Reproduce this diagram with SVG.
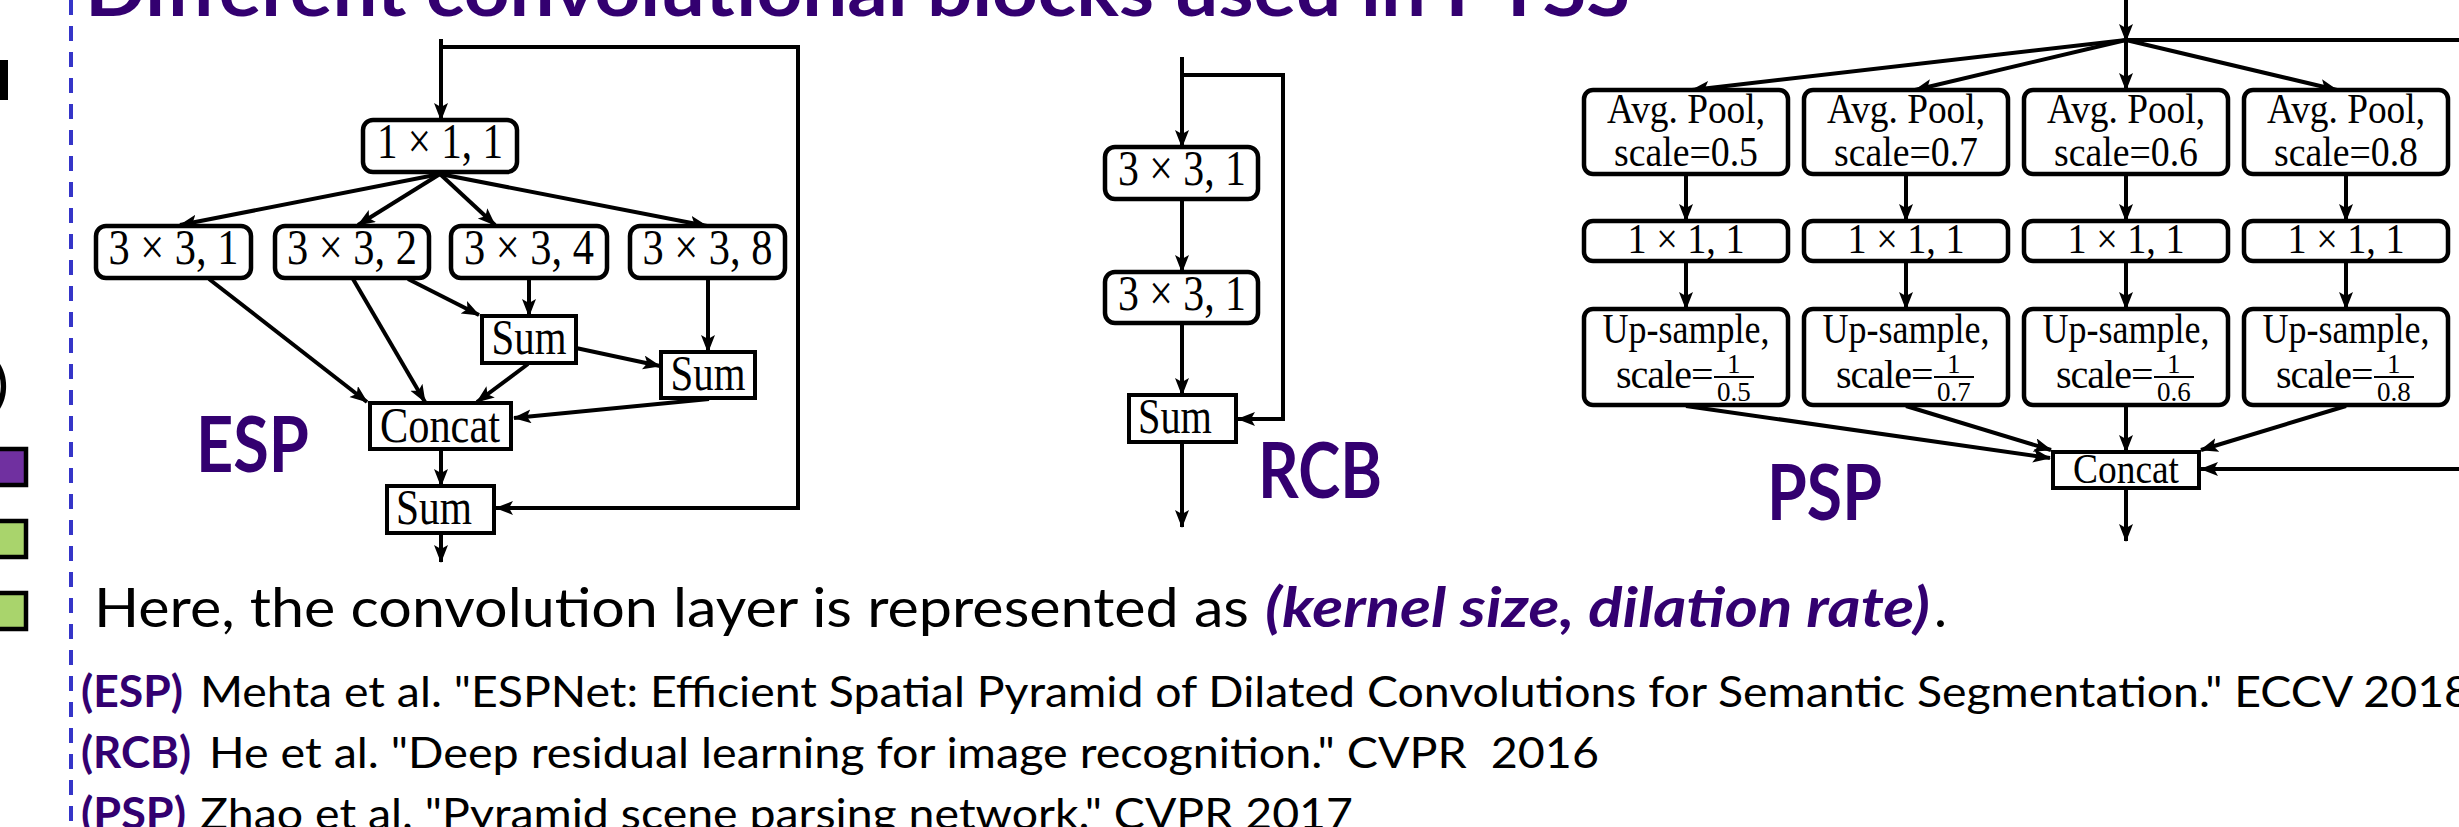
<svg xmlns="http://www.w3.org/2000/svg" width="2459" height="827" viewBox="0 0 2459 827">
  <defs>
    <marker id="ah" markerUnits="userSpaceOnUse" markerWidth="20" markerHeight="16" refX="17" refY="7" orient="auto">
      <path d="M0,0 L18,7 L0,14 L4,7 z" fill="#000"/>
    </marker>
    <style>
      .ln { stroke:#000; stroke-width:4; fill:none; stroke-linejoin:miter; }
      .arr { marker-end:url(#ah); }
      .rbox { fill:#fff; stroke:#000; stroke-width:4.5; }
      .sbox { fill:#fff; stroke:#000; stroke-width:4; }
      .tx { font-family:"Liberation Serif", "DejaVu Serif", serif; fill:#000; text-anchor:middle; }
      .t44 { font-size:50px; }
      .t38 { font-size:42px; }
      .frac { font-family:"Liberation Serif", "DejaVu Serif", serif; fill:#000; font-size:40px; letter-spacing:-1px; }
      .num { font-size:27px; letter-spacing:0; }
      .slide { font-family:Lato, "Open Sans", "Liberation Sans", sans-serif; }
      .pur { fill:#330070; }
      .lbl { font-family:Lato, "Open Sans", "Liberation Sans", sans-serif; font-weight:bold; font-size:76px; fill:#330070; }
      .dash { stroke:#3535c8; stroke-width:4; stroke-dasharray:15 11; fill:none; }
    </style>
  </defs>

  <rect x="0" y="0" width="2459" height="827" fill="#fff"/>

  <!-- slide title, running off the top edge -->
  <text class="slide pur" x="85" y="16" font-size="72" font-weight="bold" textLength="1545" lengthAdjust="spacingAndGlyphs">Different convolutional blocks used in PTSS</text>

  <!-- left margin remnants -->
  <g id="left-margin">
    <rect x="0" y="60" width="8" height="40" fill="#000"/>
    <text class="slide" x="8" y="402" font-size="50" font-weight="bold" text-anchor="end" fill="#000">)</text>
    <rect x="-20" y="449" width="46" height="36" fill="#7030a0" stroke="#000" stroke-width="4.5"/>
    <rect x="-20" y="521" width="46" height="36" fill="#a9d46c" stroke="#000" stroke-width="4.5"/>
    <rect x="-20" y="593" width="46" height="36" fill="#a9d46c" stroke="#000" stroke-width="4.5"/>
  </g>

  <!-- dashed separator -->
  <line class="dash" x1="71" y1="0" x2="71" y2="827"/>

  <!-- ===== connectors ===== -->
  <g id="connectors">
    <!-- ESP block -->
    <path class="ln arr" d="M441,39 L441,120"/>
    <path class="ln arr" d="M441,47 L798,47 L798,508 L496,508"/>
    <path class="ln arr" d="M440,174 L180,225"/>
    <path class="ln arr" d="M440,174 L358,225"/>
    <path class="ln arr" d="M440,174 L495,225"/>
    <path class="ln arr" d="M440,174 L707,226"/>
    <path class="ln arr" d="M209,279 L367,402"/>
    <path class="ln arr" d="M353,279 L425,402"/>
    <path class="ln arr" d="M408,279 L479,315"/>
    <path class="ln arr" d="M529,279 L529,316"/>
    <path class="ln arr" d="M708,279 L708,352"/>
    <path class="ln arr" d="M576,348 L660,366"/>
    <path class="ln arr" d="M528,364 L477,402"/>
    <path class="ln arr" d="M709,399 L514,418"/>
    <path class="ln arr" d="M441,450 L441,486"/>
    <path class="ln arr" d="M441,534 L441,562"/>

    <!-- RCB block -->
    <path class="ln arr" d="M1182,57 L1182,147"/>
    <path class="ln arr" d="M1182,75 L1283,75 L1283,419 L1238,419"/>
    <path class="ln arr" d="M1182,200 L1182,272"/>
    <path class="ln arr" d="M1182,324 L1182,395"/>
    <path class="ln arr" d="M1182,443 L1182,527"/>

    <!-- PSP block -->
    <path class="ln arr" d="M2126,0 L2126,41"/>
    <path class="ln" d="M2126,40 L2470,40"/>
    <path class="ln arr" d="M2126,40 L1692,90"/>
    <path class="ln arr" d="M2126,40 L1915,90"/>
    <path class="ln arr" d="M2126,40 L2126,90"/>
    <path class="ln arr" d="M2126,40 L2337,90"/>
    <path class="ln arr" d="M1686,175 L1686,221"/>
    <path class="ln arr" d="M1906,175 L1906,221"/>
    <path class="ln arr" d="M2126,175 L2126,221"/>
    <path class="ln arr" d="M2346,175 L2346,221"/>
    <path class="ln arr" d="M1686,262 L1686,309"/>
    <path class="ln arr" d="M1906,262 L1906,309"/>
    <path class="ln arr" d="M2126,262 L2126,309"/>
    <path class="ln arr" d="M2346,262 L2346,309"/>
    <path class="ln arr" d="M1686,406 L2050,458"/>
    <path class="ln arr" d="M1906,406 L2051,450"/>
    <path class="ln arr" d="M2126,406 L2126,452"/>
    <path class="ln arr" d="M2346,406 L2201,450"/>
    <path class="ln arr" d="M2470,469 L2201,469"/>
    <path class="ln arr" d="M2126,489 L2126,541"/>
  </g>

  <!-- ===== ESP nodes ===== -->
  <g id="esp-conv11">
    <rect class="rbox" x="363" y="120" width="154" height="52" rx="10"/>
    <text class="tx t44" x="440" y="158" textLength="126" lengthAdjust="spacingAndGlyphs">1 × 1, 1</text>
  </g>
  <g id="esp-conv33-d1">
    <rect class="rbox" x="96" y="226" width="155" height="52" rx="10"/>
    <text class="tx t44" x="173.5" y="264" textLength="130" lengthAdjust="spacingAndGlyphs">3 × 3, 1</text>
  </g>
  <g id="esp-conv33-d2">
    <rect class="rbox" x="275" y="226" width="154" height="52" rx="10"/>
    <text class="tx t44" x="352" y="264" textLength="130" lengthAdjust="spacingAndGlyphs">3 × 3, 2</text>
  </g>
  <g id="esp-conv33-d4">
    <rect class="rbox" x="451" y="226" width="156" height="52" rx="10"/>
    <text class="tx t44" x="529" y="264" textLength="130" lengthAdjust="spacingAndGlyphs">3 × 3, 4</text>
  </g>
  <g id="esp-conv33-d8">
    <rect class="rbox" x="630" y="226" width="155" height="52" rx="10"/>
    <text class="tx t44" x="707.5" y="264" textLength="130" lengthAdjust="spacingAndGlyphs">3 × 3, 8</text>
  </g>
  <g id="esp-sum1">
    <rect class="sbox" x="482" y="316" width="94" height="47"/>
    <text class="tx t44" x="529" y="354" textLength="75" lengthAdjust="spacingAndGlyphs">Sum</text>
  </g>
  <g id="esp-sum2">
    <rect class="sbox" x="661" y="352" width="94" height="46"/>
    <text class="tx t44" x="708" y="390" textLength="75" lengthAdjust="spacingAndGlyphs">Sum</text>
  </g>
  <g id="esp-concat">
    <rect class="sbox" x="370" y="403" width="141" height="46"/>
    <text class="tx t44" x="440" y="442" textLength="120" lengthAdjust="spacingAndGlyphs">Concat</text>
  </g>
  <g id="esp-sum-out">
    <rect class="sbox" x="387" y="486" width="107" height="47"/>
    <text class="tx t44" x="434" y="524" textLength="76" lengthAdjust="spacingAndGlyphs">Sum</text>
  </g>
  <text class="lbl" x="196" y="472" textLength="113" lengthAdjust="spacingAndGlyphs">ESP</text>

  <!-- ===== RCB nodes ===== -->
  <g id="rcb-conv1">
    <rect class="rbox" x="1105" y="147" width="153" height="52" rx="10"/>
    <text class="tx t44" x="1182" y="185" textLength="128" lengthAdjust="spacingAndGlyphs">3 × 3, 1</text>
  </g>
  <g id="rcb-conv2">
    <rect class="rbox" x="1105" y="272" width="153" height="51" rx="10"/>
    <text class="tx t44" x="1182" y="310" textLength="128" lengthAdjust="spacingAndGlyphs">3 × 3, 1</text>
  </g>
  <g id="rcb-sum">
    <rect class="sbox" x="1129" y="395" width="107" height="47"/>
    <text class="tx t44" x="1175" y="433" textLength="74" lengthAdjust="spacingAndGlyphs">Sum</text>
  </g>
  <text class="lbl" x="1258" y="498" textLength="124" lengthAdjust="spacingAndGlyphs">RCB</text>

  <!-- ===== PSP nodes ===== -->
  <g id="psp-pool-05">
    <rect class="rbox" x="1584" y="90" width="204" height="84" rx="9"/>
    <text class="tx t38" x="1686" y="123" textLength="158" lengthAdjust="spacingAndGlyphs">Avg. Pool,</text>
    <text class="tx t38" x="1686" y="166" textLength="144" lengthAdjust="spacingAndGlyphs">scale=0.5</text>
  </g>
  <g id="psp-pool-07">
    <rect class="rbox" x="1804" y="90" width="204" height="84" rx="9"/>
    <text class="tx t38" x="1906" y="123" textLength="158" lengthAdjust="spacingAndGlyphs">Avg. Pool,</text>
    <text class="tx t38" x="1906" y="166" textLength="144" lengthAdjust="spacingAndGlyphs">scale=0.7</text>
  </g>
  <g id="psp-pool-06">
    <rect class="rbox" x="2024" y="90" width="204" height="84" rx="9"/>
    <text class="tx t38" x="2126" y="123" textLength="158" lengthAdjust="spacingAndGlyphs">Avg. Pool,</text>
    <text class="tx t38" x="2126" y="166" textLength="144" lengthAdjust="spacingAndGlyphs">scale=0.6</text>
  </g>
  <g id="psp-pool-08">
    <rect class="rbox" x="2244" y="90" width="204" height="84" rx="9"/>
    <text class="tx t38" x="2346" y="123" textLength="158" lengthAdjust="spacingAndGlyphs">Avg. Pool,</text>
    <text class="tx t38" x="2346" y="166" textLength="144" lengthAdjust="spacingAndGlyphs">scale=0.8</text>
  </g>

  <g id="psp-conv-a">
    <rect class="rbox" x="1584" y="221" width="204" height="40" rx="9"/>
    <text class="tx t38" x="1686" y="253" textLength="117" lengthAdjust="spacingAndGlyphs">1 × 1, 1</text>
  </g>
  <g id="psp-conv-b">
    <rect class="rbox" x="1804" y="221" width="204" height="40" rx="9"/>
    <text class="tx t38" x="1906" y="253" textLength="117" lengthAdjust="spacingAndGlyphs">1 × 1, 1</text>
  </g>
  <g id="psp-conv-c">
    <rect class="rbox" x="2024" y="221" width="204" height="40" rx="9"/>
    <text class="tx t38" x="2126" y="253" textLength="117" lengthAdjust="spacingAndGlyphs">1 × 1, 1</text>
  </g>
  <g id="psp-conv-d">
    <rect class="rbox" x="2244" y="221" width="204" height="40" rx="9"/>
    <text class="tx t38" x="2346" y="253" textLength="117" lengthAdjust="spacingAndGlyphs">1 × 1, 1</text>
  </g>

  <!-- up-sampling boxes: "scale=" followed by a stacked fraction -->
  <g id="psp-up-05">
    <rect class="rbox" x="1584" y="309" width="204" height="96" rx="9"/>
    <text class="tx t38" x="1686" y="343" textLength="167" lengthAdjust="spacingAndGlyphs">Up-sample,</text>
    <line x1="1714" y1="377" x2="1754" y2="377" stroke="#000" stroke-width="2"/>
    <text class="frac"><tspan x="1616" y="388">scale=</tspan><tspan class="num" x="1727" y="373">1</tspan><tspan class="num" x="1717" y="401">0.5</tspan></text>
  </g>
  <g id="psp-up-07">
    <rect class="rbox" x="1804" y="309" width="204" height="96" rx="9"/>
    <text class="tx t38" x="1906" y="343" textLength="167" lengthAdjust="spacingAndGlyphs">Up-sample,</text>
    <line x1="1934" y1="377" x2="1974" y2="377" stroke="#000" stroke-width="2"/>
    <text class="frac"><tspan x="1836" y="388">scale=</tspan><tspan class="num" x="1947" y="373">1</tspan><tspan class="num" x="1937" y="401">0.7</tspan></text>
  </g>
  <g id="psp-up-06">
    <rect class="rbox" x="2024" y="309" width="204" height="96" rx="9"/>
    <text class="tx t38" x="2126" y="343" textLength="167" lengthAdjust="spacingAndGlyphs">Up-sample,</text>
    <line x1="2154" y1="377" x2="2194" y2="377" stroke="#000" stroke-width="2"/>
    <text class="frac"><tspan x="2056" y="388">scale=</tspan><tspan class="num" x="2167" y="373">1</tspan><tspan class="num" x="2157" y="401">0.6</tspan></text>
  </g>
  <g id="psp-up-08">
    <rect class="rbox" x="2244" y="309" width="204" height="96" rx="9"/>
    <text class="tx t38" x="2346" y="343" textLength="167" lengthAdjust="spacingAndGlyphs">Up-sample,</text>
    <line x1="2374" y1="377" x2="2414" y2="377" stroke="#000" stroke-width="2"/>
    <text class="frac"><tspan x="2276" y="388">scale=</tspan><tspan class="num" x="2387" y="373">1</tspan><tspan class="num" x="2377" y="401">0.8</tspan></text>
  </g>
  <g id="psp-concat">
    <rect class="sbox" x="2053" y="452" width="146" height="36"/>
    <text class="tx t38" x="2126" y="483" textLength="106" lengthAdjust="spacingAndGlyphs">Concat</text>
  </g>
  <text class="lbl" x="1767" y="520" textLength="115" lengthAdjust="spacingAndGlyphs">PSP</text>

  <!-- ===== notes below the blocks ===== -->
  <text class="slide" x="94" y="627" font-size="55" fill="#000" textLength="1155" lengthAdjust="spacingAndGlyphs">Here, the convolution layer is represented as</text>
  <text class="slide pur" x="1265" y="627" font-size="55" font-weight="bold" font-style="italic" textLength="665" lengthAdjust="spacingAndGlyphs">(kernel size, dilation rate)</text>
  <text class="slide" x="1934" y="627" font-size="55" fill="#000">.</text>

  <text class="slide pur" x="81" y="707" font-size="43" font-weight="bold" textLength="102" lengthAdjust="spacingAndGlyphs">(ESP)</text>
  <text class="slide" x="200" y="707" font-size="43" fill="#000" textLength="2271" lengthAdjust="spacingAndGlyphs">Mehta et al. "ESPNet: Efficient Spatial Pyramid of Dilated Convolutions for Semantic Segmentation." ECCV 2018</text>

  <text class="slide pur" x="81" y="768" font-size="43" font-weight="bold" textLength="110" lengthAdjust="spacingAndGlyphs">(RCB)</text>
  <text class="slide" x="209" y="768" font-size="43" fill="#000" style="white-space:pre" textLength="1390" lengthAdjust="spacingAndGlyphs">He et al. "Deep residual learning for image recognition." CVPR  2016</text>

  <text class="slide pur" x="81" y="829" font-size="43" font-weight="bold" textLength="105" lengthAdjust="spacingAndGlyphs">(PSP)</text>
  <text class="slide" x="200" y="829" font-size="43" fill="#000" textLength="1153" lengthAdjust="spacingAndGlyphs">Zhao et al. "Pyramid scene parsing network." CVPR 2017</text>
</svg>
